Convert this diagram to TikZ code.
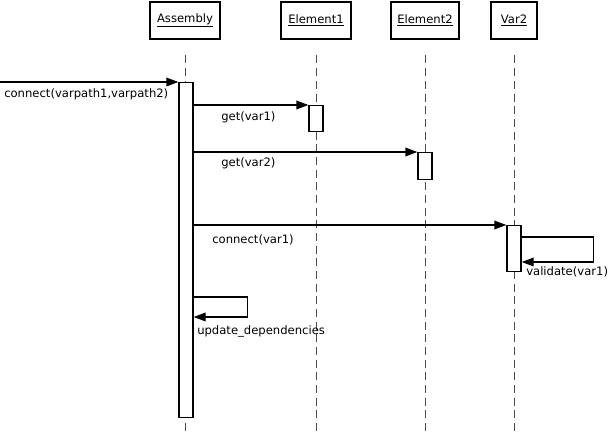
\documentclass[tikz,border=0pt]{standalone}
\usepackage{fontspec}
\setmainfont{DejaVu Sans}
\usetikzlibrary{arrows.meta}

\begin{document}
\begin{tikzpicture}[x=.75pt,y=-.75pt,font=\fontsize{8.7}{10}\selectfont,
obj/.style={draw,line width=1.5pt,minimum height=27.5pt,inner sep=0pt},
act/.style={draw,line width=1pt,fill=white,minimum width=10.5pt,inner sep=0pt,anchor=north},
life/.style={black!70,line width=.6pt,dash pattern=on 6pt off 3.5pt},
lbl/.style={anchor=west,inner sep=0pt},
msg/.style={line width=1pt,-{Triangle[length=9pt,width=6.5pt]}}]
\useasboundingbox(0,0)rectangle(609,435);

% objects
\node[obj,minimum width=53pt](assembly)at(185,20.5){\underline{Assembly}};
\node[obj,minimum width=52pt](element1)at(316,20.5){\underline{Element1}};
\node[obj,minimum width=51pt](element2)at(425,20.5){\underline{Element2}};
\node[obj,minimum width=34pt](var2)at(514,20.5){\underline{Var2}};

% lifelines
\coordinate(end1)at(185,432);
\draw[life](assembly)++(0,35)--(end1);
\draw[life](element1)++(0,35)--(316,432);
\draw[life](element2)++(0,35)--(425,432);
\draw[life](var2)++(0,35)--(514,432);

% activations
\node[act,minimum height=251pt](actA)at(186,82){};
\node[act,minimum height=19.5pt](actE1)at(316,105){};
\node[act,minimum height=20.25pt](actE2)at(425,152){};
\node[act,minimum height=34.5pt](actV)at(514,225){};

% messages
\coordinate(start)at(0,82);
\draw[msg](start)--(actA.north west);
\node[lbl](lconnect)at(4,94){connect(varpath1,varpath2)};

\draw[msg](actA.east|-actE1.north)--(actE1.north west);
\node[lbl](lget1)at(221,117){get(var1)};

\draw[msg](actA.east|-actE2.north)--(actE2.north west);
\node[lbl](lget2)at(221,163){get(var2)};

\draw[msg](actA.east|-actV.north)--(actV.north west);
\node[lbl](lconnect1)at(212,240){connect(var1)};

\draw[msg]([yshift=-9pt]actV.north east)--++(72,0)--++(0,25)--([yshift=-27.75pt]actV.north east);
\node[lbl](lvalidate)at(526,272){validate(var1)};

\draw[msg](actA.east|-0,297)--++(54,0)--++(0,20)--(actA.east|-0,317);
\node[lbl](lupdate)at(197,331){update\_dependencies};
\end{tikzpicture}
\end{document}
